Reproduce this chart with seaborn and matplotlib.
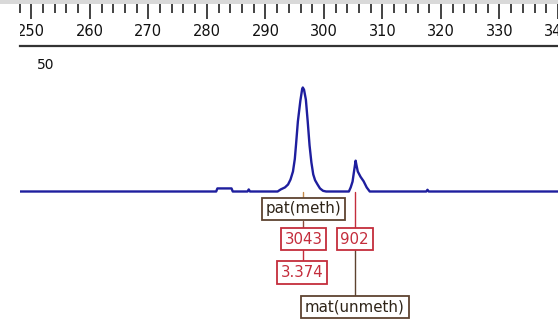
import matplotlib
matplotlib.use("Agg")
import matplotlib.pyplot as plt
import matplotlib.transforms as mtransforms
from matplotlib.patches import Rectangle
import seaborn as sns
import pandas as pd

sns.set_style("white")
plt.rcParams['font.family'] = ['DejaVu Sans']

# ---- data ----
sizes = [250.0, 282.0, 282.2, 284.5, 284.7, 287.1, 287.3, 287.5,
         292.0, 292.5, 293.2, 293.7, 294.1, 294.5, 294.8, 295.0, 295.3, 295.7,
         296.0, 296.1, 296.3, 296.6, 296.9, 297.2, 297.5, 297.8, 298.1, 298.5,
         298.9, 299.4, 299.9,
         303.6, 303.9, 304.2, 304.45, 304.7, 304.85, 305.05, 305.5, 306.0,
         306.5, 307.0,
         316.2, 316.4, 316.6, 338.0]
intensity = [0, 0, 90, 90, 0, 0, 60, 0,
             0, 60, 120, 205, 350, 585, 950, 1375, 2050, 2650,
             3000, 3043, 2980, 2690, 2050, 1350, 850, 500, 330, 205,
             90, 20, 0,
             0, 120, 290, 600, 902, 760, 585, 430, 300,
             120, 0,
             0, 50, 0, 0]

major_ticks = [250, 260, 270, 280, 290, 300, 310, 320, 330, 340]
tick_labels = ["250", "260", "270", "280", "290", "300", "310", "320", "330", "340"]
minor_ticks = list(range(248, 342, 2))

peak_sizes = [296.2, 304.6]
peak_heights = ["3043", "902"]
peak_ratio = "3.374"
allele_labels = ["pat(meth)", "mat(unmeth)"]
y_label_text = "50"

# ---- figure ----
W, H = 558, 325
fig = plt.figure(figsize=(W / 100, H / 100), dpi=100)
fig.patch.set_facecolor("white")

x0 = 19.6
px_per_unit = 6.143
xmin = 250.0
xmax = 250.0 + (W - x0) / px_per_unit

# gray band at top
fig.patches.append(Rectangle((0, 1 - 4 / H), 1, 4 / H, transform=fig.transFigure,
                             facecolor="#d9d9d9", edgecolor="none", zorder=0))

# ruler axes (from y=4 to y=46 px)
rul = fig.add_axes([x0 / W, 1 - 46 / H, (W - x0) / W, 42 / H])
rul.set_xlim(xmin, xmax)
rul.set_ylim(0, 1)
for s in ["left", "right", "top"]:
    rul.spines[s].set_visible(False)
rul.spines["bottom"].set_color("#333333")
rul.spines["bottom"].set_linewidth(1.6)
rul.set_yticks([])
rul.xaxis.set_ticks_position("top")
rul.set_xticks(major_ticks)
rul.set_xticks(minor_ticks, minor=True)
rul.tick_params(axis="x", which="major", direction="in", length=10.5, width=1.2,
                color="#222222", labeltop=False, labelbottom=False)
rul.tick_params(axis="x", which="minor", direction="in", length=6.5, width=1.2,
                color="#222222")
for t, lab in zip(major_ticks, tick_labels):
    rul.text(t, 1 - (32 - 4) / 42, lab, ha="center", va="center",
             fontsize=10.5, color="#111111", clip_on=True)

# main axes (from y=47 px to bottom)
ax = fig.add_axes([x0 / W, 0, (W - x0) / W, 1 - 47 / H])
base_py = 191.5
scale = 3043 / 104.0
ax.set_xlim(xmin, xmax)
ax.set_ylim((base_py - H) * scale, (base_py - 47) * scale)
ax.axis("off")

df = pd.DataFrame({"size": sizes, "rfu": intensity})
sns.lineplot(data=df, x="size", y="rfu", ax=ax, color="#1e1e9e", linewidth=1.7,
             estimator=None, sort=False)

blend = mtransforms.blended_transform_factory(ax.transData, fig.transFigure)

def fy(py):
    return 1 - py / H

brown = "#5e4330"
red = "#c42d3c"
orange = "#c58a4a"
fs = 10.8

# connectors
ax.plot([peak_sizes[0]] * 2, [fy(192), fy(197)], transform=blend, color=orange, lw=1)
ax.plot([peak_sizes[0]] * 2, [fy(221), fy(230)], transform=blend, color="#8a4a3a", lw=1)
ax.plot([peak_sizes[0]] * 2, [fy(248), fy(263)], transform=blend, color=red, lw=1)
ax.plot([peak_sizes[1]] * 2, [fy(192), fy(230)], transform=blend, color=red, lw=1)
ax.plot([peak_sizes[1]] * 2, [fy(248), fy(295)], transform=blend, color=brown, lw=1)

def box(x, py, s, tc, ec):
    ax.text(x, fy(py), s, transform=blend, ha="center", va="center", fontsize=fs,
            color=tc,
            bbox=dict(boxstyle="square,pad=0.25", facecolor="white", edgecolor=ec, lw=1.3))

box(peak_sizes[0], 209, allele_labels[0], "#2e2418", brown)
box(peak_sizes[0], 239, peak_heights[0], red, red)
box(peak_sizes[1] - 0.05, 239, peak_heights[1], red, red)
box(peak_sizes[0] - 0.25, 272.5, peak_ratio, red, red)
box(peak_sizes[1], 307, allele_labels[1], "#2e2418", brown)

fig.text(46 / W, fy(65), y_label_text, ha="center", va="center", fontsize=10,
         color="#111111")

fig.savefig("out.png", dpi=100)
